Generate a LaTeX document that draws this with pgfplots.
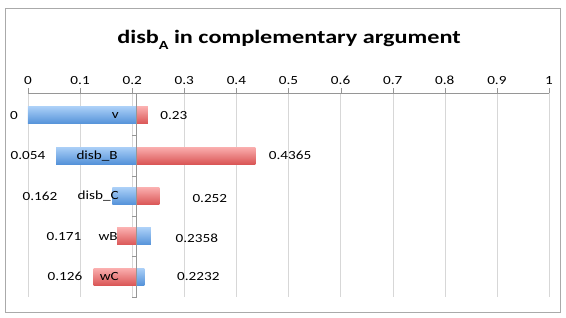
\documentclass[border=0pt]{standalone}
\usepackage{pgfplots}
\pgfplotsset{compat=1.18}
\usepackage{fontspec}
\setmainfont{Carlito}[FakeStretch=1.22]
\newfontfamily\titlefont{Carlito}[FakeStretch=1.28]
\definecolor{btop}{RGB}{170,207,247}
\definecolor{bbot}{RGB}{84,146,217}
\definecolor{rtop}{RGB}{250,174,174}
\definecolor{rbot}{RGB}{218,86,86}
\definecolor{gridc}{RGB}{215,215,215}
\definecolor{axc}{RGB}{150,150,150}
\definecolor{framec}{RGB}{170,170,170}
\tikzset{
  bluebar/.style={draw=none, top color=btop, bottom color=bbot},
  redbar/.style={draw=none, top color=rtop, bottom color=rbot},
  lab/.style={font=\fontsize{12.5}{14}\selectfont},
}
\begin{document}
\begin{tikzpicture}
\path[use as bounding box] (0bp,0bp) rectangle (566bp,318bp);
\draw[framec] (5.5bp,5.5bp) rectangle (560.5bp,310bp);
\node[font=\titlefont\bfseries\fontsize{19}{22}\selectfont] at (289bp,278bp) {disb\raisebox{-5.5bp}{\fontsize{12.5}{14}\selectfont A} in complementary argument};
\begin{axis}[
  at={(28bp,21bp)}, anchor=south west, scale only axis,
  width=521bp, height=204bp,
  xmin=0, xmax=1, ymin=-0.55, ymax=4.5, y dir=reverse,
  axis x line*=top, axis y line=none,
  x axis line style={-, axc},
  xtick={0,0.1,0.2,0.3,0.4,0.5,0.6,0.7,0.8,0.9,1},
  xticklabels={0,0.1,0.2,0.3,0.4,0.5,0.6,0.7,0.8,0.9,1},
  ytick=\empty,
  tick align=outside, major tick length=5bp,
  x tick style={axc},
  xmajorgrids, grid style={gridc},
  xticklabel style={font=\fontsize{12.5}{14}\selectfont, yshift=0bp},
  clip=false,
]
% v: 0 -> 0.23
\addplot[bluebar] coordinates {(0,-0.21) (0.209,-0.21) (0.209,0.21) (0,0.21)} -- cycle;
\addplot[redbar] coordinates {(0.209,-0.21) (0.23,-0.21) (0.23,0.21) (0.209,0.21)} -- cycle;
% disb_B: 0.054 -> 0.4365
\addplot[bluebar] coordinates {(0.054,0.79) (0.209,0.79) (0.209,1.21) (0.054,1.21)} -- cycle;
\addplot[redbar] coordinates {(0.209,0.79) (0.4365,0.79) (0.4365,1.21) (0.209,1.21)} -- cycle;
% disb_C: 0.162 -> 0.252
\addplot[bluebar] coordinates {(0.162,1.79) (0.209,1.79) (0.209,2.21) (0.162,2.21)} -- cycle;
\addplot[redbar] coordinates {(0.209,1.79) (0.252,1.79) (0.252,2.21) (0.209,2.21)} -- cycle;
% wB: 0.171 -> 0.2358
\addplot[redbar] coordinates {(0.171,2.79) (0.209,2.79) (0.209,3.21) (0.171,3.21)} -- cycle;
\addplot[bluebar] coordinates {(0.209,2.79) (0.2358,2.79) (0.2358,3.21) (0.209,3.21)} -- cycle;
% wC: 0.126 -> 0.2232
\addplot[redbar] coordinates {(0.126,3.79) (0.209,3.79) (0.209,4.21) (0.126,4.21)} -- cycle;
\addplot[bluebar] coordinates {(0.209,3.79) (0.2232,3.79) (0.2232,4.21) (0.209,4.21)} -- cycle;
% category axis at base value
\draw[axc, line width=1.2bp] (axis cs:0.209,-0.55) -- (axis cs:0.209,4.5);
\draw[axc] (axis cs:0.209,-0.55) -- ++(-5bp,0bp);
\draw[axc] (axis cs:0.209,0.5) -- ++(-5bp,0bp);
\draw[axc] (axis cs:0.209,1.5) -- ++(-5bp,0bp);
\draw[axc] (axis cs:0.209,2.5) -- ++(-5bp,0bp);
\draw[axc] (axis cs:0.209,3.5) -- ++(-5bp,0bp);
\draw[axc] (axis cs:0.209,4.5) -- ++(-5bp,0bp);
% category names
\node[lab, anchor=east] at (axis cs:0.181,0) {v};
\node[lab, anchor=east] at (axis cs:0.179,1) {disb\_B};
\node[lab, anchor=east] at (axis cs:0.181,2) {disb\_C};
\node[lab, anchor=east] at (axis cs:0.179,3) {wB};
\node[lab, anchor=east] at (axis cs:0.181,4) {wC};
% data labels
\node[lab] at (axis cs:-0.027,0) {0};
\node[lab] at (axis cs:0.0,1) {0.054};
\node[lab] at (axis cs:0.023,2) {0.162};
\node[lab] at (axis cs:0.069,3) {0.171};
\node[lab] at (axis cs:0.071,4) {0.126};
\node[lab] at (axis cs:0.280,0) {0.23};
\node[lab] at (axis cs:0.503,1) {0.4365};
\node[lab] at (axis cs:0.349,2.05) {0.252};
\node[lab] at (axis cs:0.324,3.05) {0.2358};
\node[lab] at (axis cs:0.327,4) {0.2232};
\end{axis}
\end{tikzpicture}
\end{document}
